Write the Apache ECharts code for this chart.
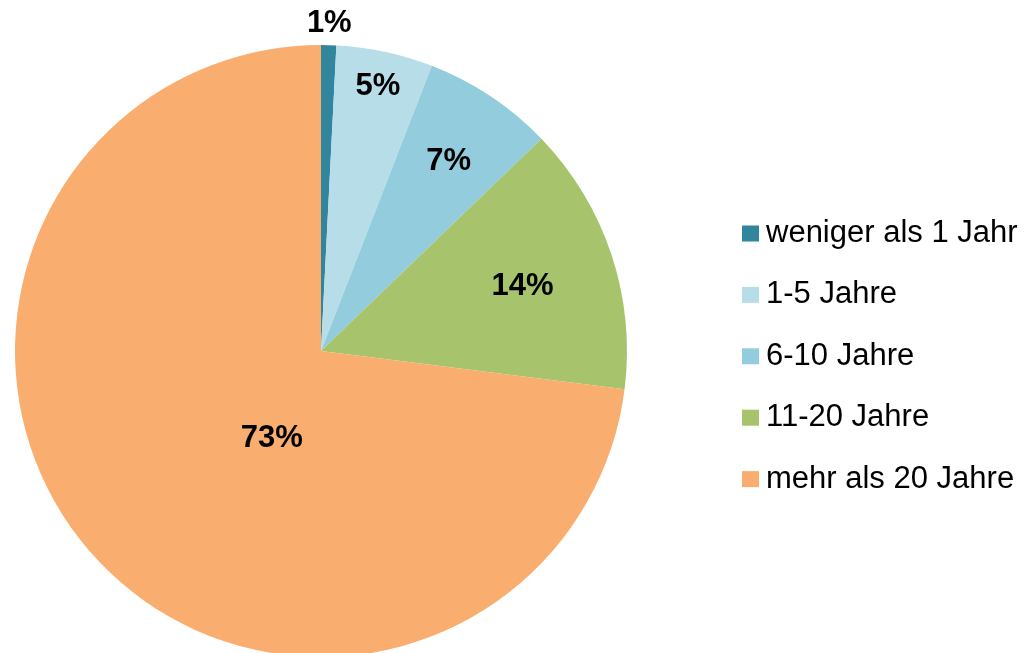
<!DOCTYPE html>
<html lang="de">
<head>
    <meta charset="UTF-8">
    <title>Dauer</title>
    <script src="https://cdn.jsdelivr.net/npm/echarts/dist/echarts.min.js"></script>
    <style>
        html, body { margin: 0; padding: 0; background: #fff; }
        #main { width: 1029px; height: 653px; }
    </style>
</head>
<body>
    <div id="main"></div>
    <script>
        // Daten
        var categories = ['weniger als 1 Jahr', '1-5 Jahre', '6-10 Jahre', '11-20 Jahre', 'mehr als 20 Jahre'];
        var shares = [0.8, 5.1, 6.9, 14.2, 73.0];
        var colors = ['#31859C', '#B7DEE8', '#93CDDD', '#A7C36B', '#F9AE6F'];

        // Label-Abstand vom Mittelpunkt (Anteil des Radius) und Winkelkorrektur (Grad)
        var labelRadius = [1.077, 0.891, 0.753, 0.694, 0.321];
        var labelTurn = [0, 0, 0, 0, -18.6];

        var cx = 321, cy = 351, radius = 306;

        // Mittelwinkel jedes Segments (im Uhrzeigersinn ab 12 Uhr)
        var total = shares.reduce(function (a, b) { return a + b; }, 0);
        var midAngles = [];
        var acc = 0;
        shares.forEach(function (v) {
            midAngles.push((acc + v / 2) / total * 360);
            acc += v;
        });

        var chartDom = document.getElementById('main');
        var myChart = echarts.init(chartDom);

        var option = {
            animation: false,
            color: colors,
            legend: {
                orient: 'vertical',
                left: 737,
                top: 213,
                icon: 'rect',
                itemWidth: 17,
                itemHeight: 16,
                itemGap: 30.4,
                textStyle: {
                    fontFamily: 'Liberation Sans, Arial, sans-serif',
                    fontSize: 31,
                    lineHeight: 31,
                    color: '#000',
                    padding: [0, 0, 0, 2]
                },
                data: categories
            },
            series: [{
                type: 'pie',
                center: [cx, cy],
                radius: radius,
                startAngle: 90,
                clockwise: true,
                avoidLabelOverlap: false,
                label: {
                    show: true,
                    position: 'inside',
                    fontFamily: 'Liberation Sans, Arial, sans-serif',
                    fontSize: 31,
                    fontWeight: 'bold',
                    color: '#000',
                    formatter: function (p) {
                        return Math.round(p.value) + '%';
                    }
                },
                labelLine: { show: false },
                emphasis: { disabled: true },
                labelLayout: function (params) {
                    var i = params.dataIndex;
                    var a = (midAngles[i] + labelTurn[i]) * Math.PI / 180;
                    var d = labelRadius[i] * radius;
                    return {
                        x: cx + Math.sin(a) * d,
                        y: cy - Math.cos(a) * d + 2
                    };
                },
                data: categories.map(function (name, i) {
                    return { name: name, value: shares[i] };
                })
            }]
        };

        myChart.setOption(option);
    </script>
</body>
</html>
